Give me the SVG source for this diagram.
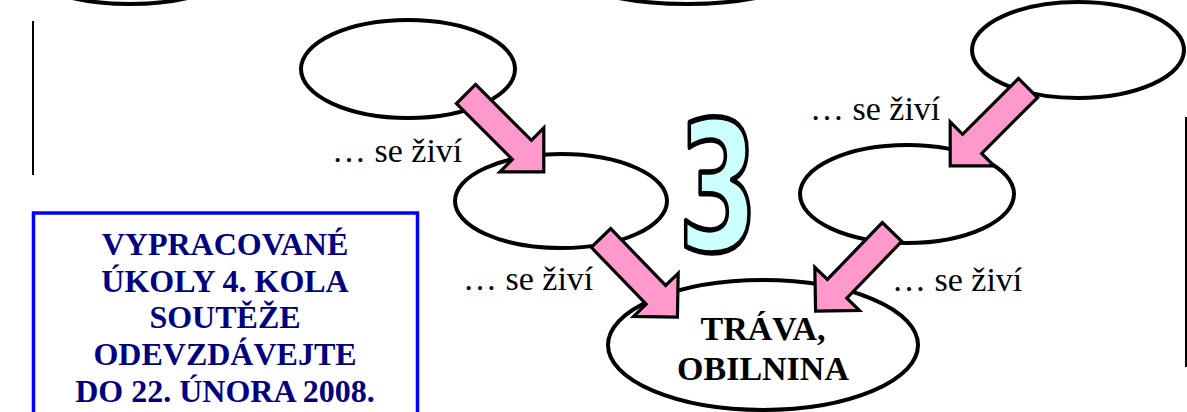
<svg xmlns="http://www.w3.org/2000/svg" width="1187" height="412" viewBox="0 0 1187 412">
<style>
.node{fill:#ffffff;stroke:#000000;stroke-width:4}
.arrow{fill:#ff99cc;stroke:#000000;stroke-width:3.2;stroke-linejoin:miter}
.lbl{font-family:"Liberation Serif","Times New Roman",serif;font-size:34px;fill:#000000}
.big{font-family:"Liberation Serif","Times New Roman",serif;font-size:34px;font-weight:bold;fill:#000000;text-anchor:middle}
.blue{font-family:"Liberation Serif","Times New Roman",serif;font-size:32px;font-weight:bold;fill:#000080;text-anchor:middle}
.vline{stroke:#000000;stroke-width:2}
</style>
<defs>
<polygon id="arr" points="0,-13.5 79,-13.5 79,-31 110,0 79,31 79,13.5 0,13.5"/>
</defs>
<rect width="1187" height="412" fill="#ffffff"/>
<line class="vline" x1="33" y1="21" x2="33" y2="175"/>
<line class="vline" x1="1186" y1="117" x2="1186" y2="367"/>
<g id="top-left-partial"><ellipse class="node" cx="130" cy="-44" rx="118" ry="48"/></g>
<g id="top-mid-partial"><ellipse class="node" cx="687" cy="-44" rx="140" ry="48"/></g>
<g id="nodeA"><ellipse class="node" cx="408" cy="69" rx="107" ry="49"/></g>
<g id="nodeB"><ellipse class="node" cx="561" cy="201" rx="106" ry="47"/></g>
<g id="nodeD"><ellipse class="node" cx="1078" cy="50" rx="106" ry="48"/></g>
<g id="nodeE"><ellipse class="node" cx="907" cy="194" rx="107" ry="49"/></g>
<g id="nodeC"><ellipse class="node" cx="763" cy="345" rx="155" ry="65"/>
<text class="big" x="763" y="340">TRÁVA,</text>
<text class="big" x="763" y="380">OBILNINA</text></g>
<g id="connectors">
<use href="#arr" class="arrow" transform="translate(466,94) rotate(45)"/>
<use href="#arr" class="arrow" transform="translate(1028,88) rotate(135)"/>
<use href="#arr" class="arrow" transform="translate(601,238) rotate(46)"/>
<use href="#arr" class="arrow" transform="translate(892,232) rotate(134)"/>
<text class="lbl" x="332" y="162">… se živí</text>
<text class="lbl" x="810" y="120">… se živí</text>
<text class="lbl" x="463" y="290">… se živí</text>
<text class="lbl" x="892" y="291">… se živí</text>
</g>
<g id="number3">
<text transform="translate(718,250) scale(0.64,1)" x="0" y="0" text-anchor="middle" font-family="DejaVu Sans, sans-serif" font-weight="bold" font-size="180" fill="#ccffff" stroke="#000000" stroke-width="5.5" stroke-linejoin="round">3</text>
</g>
<g id="notice">
<rect x="33.5" y="213" width="384" height="230" fill="none" stroke="#0000ff" stroke-width="3.5"/>
<text class="blue" x="225" y="255">VYPRACOVANÉ</text>
<text class="blue" x="225" y="292">ÚKOLY 4. KOLA</text>
<text class="blue" x="225" y="328">SOUTĚŽE</text>
<text class="blue" x="225" y="365">ODEVZDÁVEJTE</text>
<text class="blue" x="225" y="402">DO 22. ÚNORA 2008.</text>
</g>
</svg>
